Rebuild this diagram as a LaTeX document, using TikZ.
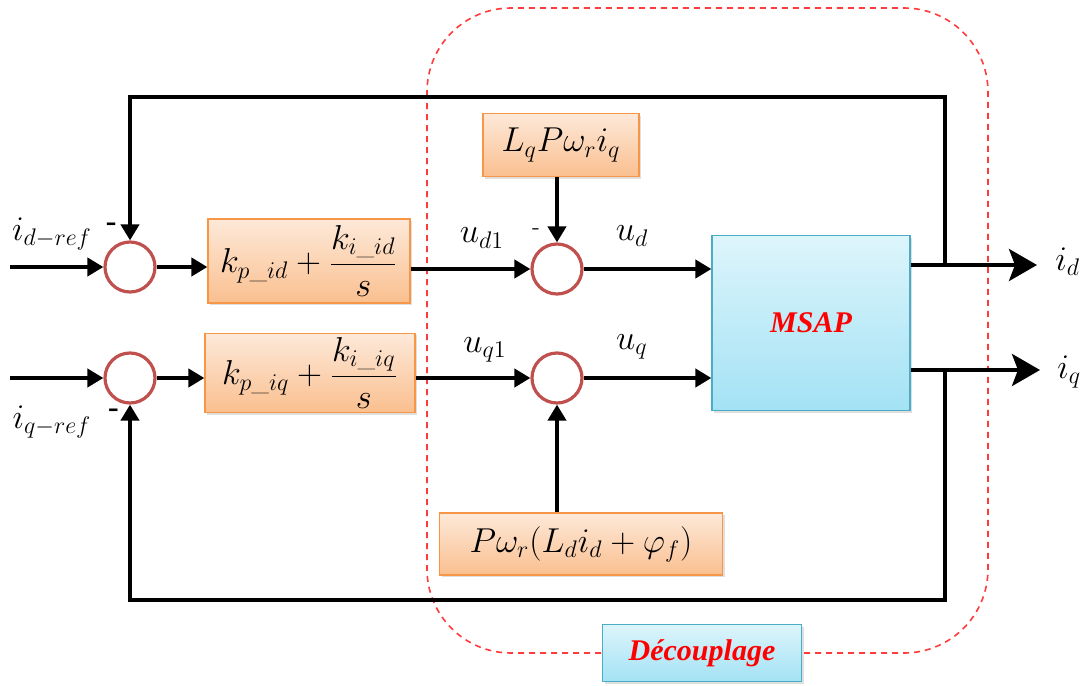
\documentclass[tikz,border=0pt]{standalone}
\usepackage{amsmath}
\usepackage{fontspec}
\newfontfamily\labelfont{Liberation Serif}
\usetikzlibrary{arrows.meta,shadows}
\definecolor{pifill}{HTML}{FDE9D9}
\definecolor{pifilldark}{HTML}{FABF8F}
\definecolor{piborder}{HTML}{F79646}
\definecolor{plantfill}{HTML}{DDF5FB}
\definecolor{plantfilldark}{HTML}{A3E2F5}
\definecolor{plantborder}{HTML}{4BACC6}
\definecolor{sumborder}{HTML}{C0504D}
\definecolor{zonered}{HTML}{FF3B3B}
\tikzset{
  block/.style={draw=piborder, line width=0.6pt, top color=pifill, bottom color=pifilldark,
    align=center, inner sep=2pt, drop shadow={shadow xshift=1pt, shadow yshift=-1pt, opacity=0.25}},
  plant/.style={block, draw=plantborder, top color=plantfill, bottom color=plantfilldark},
  title/.style={font=\labelfont\bfseries\itshape\fontsize{15}{18}\selectfont, text=red},
  sum/.style={circle, draw=sumborder, line width=1.6pt, fill=white, minimum size=25pt, inner sep=0pt},
  flow/.style={-{Triangle[length=8pt,width=9pt]}, line width=2pt},
  outflow/.style={-{Stealth[length=14pt,width=16pt,inset=3pt]}, line width=2pt},
  sign/.style={font=\fontsize{14}{14}\selectfont\bfseries},
  zone/.style={draw=zonered, line width=0.8pt, dash pattern=on 3pt off 2.5pt, rounded corners=42pt}
}
\begin{document}
\begin{tikzpicture}[x=0.5pt, y=-0.5pt, font=\fontsize{17.28}{20}\selectfont]
  \useasboundingbox (0,0) rectangle (1084,686);
  \draw[zone] (427,8) rectangle (988,653);

  \node[sum] (sumd) at (130,267) {};
  \node[sum] (sumq) at (130,378) {};
  \node[block, minimum width=101pt, minimum height=42pt] (pid) at (309,261)
    {$k_{p\_id}+\dfrac{k_{i\_id}}{s}$};
  \node[block, minimum width=105pt, minimum height=39pt] (piq) at (310,373)
    {$k_{p\_iq}+\dfrac{k_{i\_iq}}{s}$};
  \node[sum] (sumdd) at (557,269) {};
  \node[sum] (sumqq) at (557,378) {};
  \node[block, minimum width=78pt, minimum height=31.5pt] (cpld) at (561,145) {$L_qP\omega_ri_q$};
  \node[block, minimum width=141.5pt, minimum height=31pt] (cplq) at (581,544) {$P\omega_r(L_di_d+\varphi_f)$};
  \node[plant, title, minimum width=99pt, minimum height=87.5pt] (msap) at (811,323) {MSAP};
  \node[plant, title, minimum width=99.5pt, minimum height=28.5pt] (decoup) at (702,653) {Découplage};

  \coordinate (ind) at (10,267);
  \coordinate (inq) at (10,378);
  \coordinate (outd) at (1037,265);
  \coordinate (outq) at (1040,370);
  \coordinate (jd) at (945,265);
  \coordinate (jq) at (945,370);
  \coordinate (topd) at (945,97);
  \coordinate (botq) at (945,600);

  \draw[flow] (ind) -- (sumd.west);
  \draw[flow] (inq) -- (sumq.west);
  \draw[flow] (sumd.east) -- (sumd.east -| pid.west);
  \draw[flow] (sumq.east) -- (sumq.east -| piq.west);
  \draw[flow] (sumdd.west -| pid.east) -- (sumdd.west);
  \draw[flow] (sumqq.west -| piq.east) -- (sumqq.west);
  \draw[flow] (cpld.south -| sumdd) -- (sumdd.north);
  \draw[flow] (cplq.north -| sumqq) -- (sumqq.south);
  \draw[flow] (sumdd.east) -- (sumdd.east -| msap.west);
  \draw[flow] (sumqq.east) -- (sumqq.east -| msap.west);
  \draw[outflow] (outd -| msap.east) -- (outd);
  \draw[outflow] (outq -| msap.east) -- (outq);
  \draw[flow] (jd) -- (topd) -| (sumd.north);
  \draw[flow] (jq) -- (botq) -| (sumq.south);

  \node (lidref) at (52,234) {$i_{d-ref}$};
  \node (liqref) at (52,422) {$i_{q-ref}$};
  \node[sign] (sgnd) at (112,227) {-};
  \node[sign] (sgnq) at (114,413) {-};
  \node[sign, font=\fontsize{12}{12}\selectfont] (sgndd) at (536,232) {-};
  \node (lud1) at (482,238) {$u_{d1}$};
  \node (luq1) at (485,350) {$u_{q1}$};
  \node (lud) at (632,236) {$u_d$};
  \node (luq) at (632,347) {$u_q$};
  \node[anchor=west, inner sep=0pt] (lid) at (1055,262) {$i_d$};
  \node[anchor=west, inner sep=0pt] (liq) at (1057,372) {$i_q$};
\end{tikzpicture}
\end{document}
